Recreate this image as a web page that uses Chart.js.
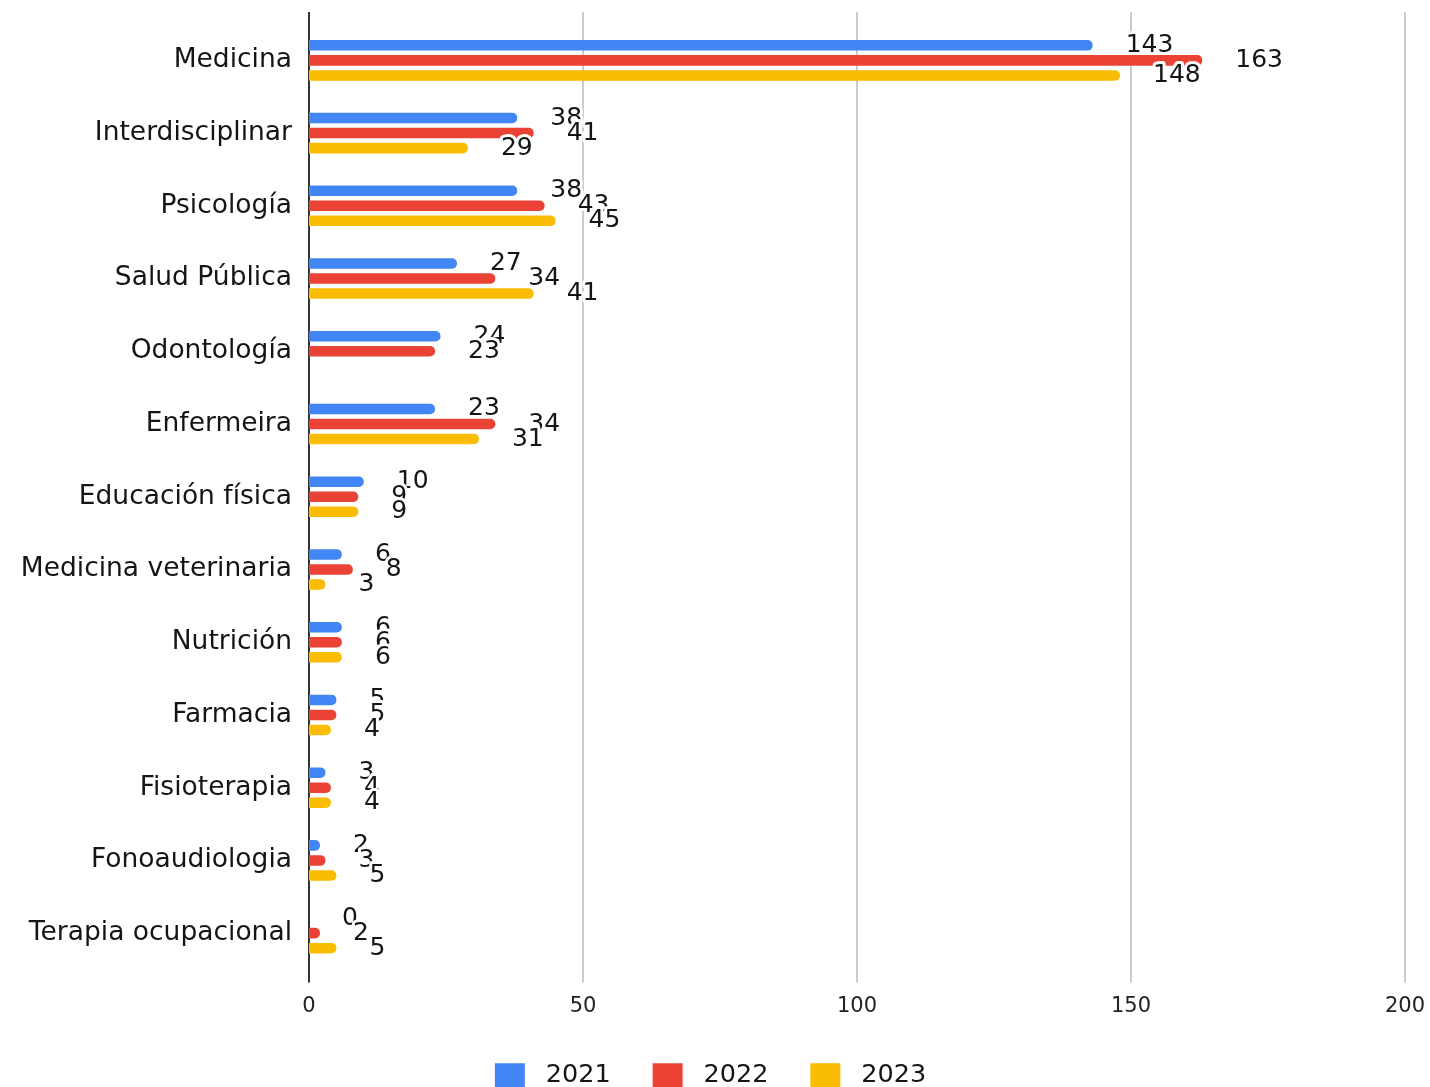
<!DOCTYPE html>
<html>
<head>
<meta charset="utf-8">
<script src="https://cdn.jsdelivr.net/npm/chart.js@4/dist/chart.umd.min.js"></script>
<style>
    html, body { margin: 0; padding: 0; background: #fff; overflow: hidden; }
    #wrap { width: 1430px; height: 1098px; }
</style>
</head>
<body>
<div id="wrap"><canvas id="chart"></canvas></div>
<script>
/* =========================
   DATA
========================= */

const categories = [
    "Medicina", "Interdisciplinar", "Psicología", "Salud Pública", "Odontología",
    "Enfermeira", "Educación física", "Medicina veterinaria", "Nutrición",
    "Farmacia", "Fisioterapia", "Fonoaudiologia", "Terapia ocupacional"
];

const years = ["2021", "2022", "2023"];

const values2021 = [143, 38, 38, 27, 24, 23, 10, 6, 6, 5, 3, 2, 0];
const values2022 = [163, 41, 43, 34, 23, 34, 9, 8, 6, 5, 4, 3, 2];
const values2023 = [148, 29, 45, 41, null, 31, 9, 3, 6, 4, 4, 5, 5];

const xTicks = [0, 50, 100, 150, 200];

const colors = ["#4285F4", "#EA4335", "#FBBC04"];

const FONT = "'DejaVu Sans', sans-serif";

/* =========================
   PLUGINS
========================= */

// vertical grid lines, a bit longer than the chart area like the original
const gridPlugin = {
    id: "longGrid",
    beforeDatasetsDraw(chart) {
        const ctx = chart.ctx;
        const x = chart.scales.x;
        const area = chart.chartArea;
        ctx.save();
        xTicks.forEach(v => {
            const px = Math.round(x.getPixelForValue(v));
            ctx.beginPath();
            ctx.lineWidth = 2;
            ctx.strokeStyle = v === 0 ? "#333333" : "#cccccc";
            ctx.moveTo(px, area.top - 12);
            ctx.lineTo(px, area.bottom + 13);
            ctx.stroke();
        });
        ctx.restore();
    }
};

// value labels with a white halo
const labelPlugin = {
    id: "valueLabels",
    afterDatasetsDraw(chart) {
        const ctx = chart.ctx;
        ctx.save();
        ctx.font = "25px " + FONT;
        ctx.textAlign = "left";
        ctx.textBaseline = "middle";
        ctx.lineJoin = "round";
        chart.data.datasets.forEach((ds, i) => {
            const meta = chart.getDatasetMeta(i);
            meta.data.forEach((bar, j) => {
                const v = ds.data[j];
                if (v === null || v === undefined) return;
                const tx = bar.x + 33;
                const ty = bar.y;
                ctx.lineWidth = 6;
                ctx.strokeStyle = "#ffffff";
                ctx.strokeText(String(v), tx, ty);
                ctx.fillStyle = "#151515";
                ctx.fillText(String(v), tx, ty);
            });
        });
        ctx.restore();
    }
};

/* =========================
   CHART
========================= */

const allValues = [values2021, values2022, values2023];

new Chart(document.getElementById("chart"), {
    type: "bar",
    data: {
        labels: categories,
        datasets: years.map((y, i) => ({
            label: y,
            data: allValues[i],
            backgroundColor: colors[i],
            borderWidth: 0,
            borderRadius: 5,
            categoryPercentage: 0.62,
            barPercentage: 0.7
        }))
    },
    options: {
        indexAxis: "y",
        responsive: true,
        maintainAspectRatio: false,
        animation: false,
        layout: { padding: { top: 24, right: 25, left: 16, bottom: 0 } },
        scales: {
            x: {
                min: 0,
                max: 200,
                afterFit: s => {
                    s.height = 51;
                    s.paddingLeft = 0;
                    s.paddingRight = 0;
                },
                afterBuildTicks: s => { s.ticks = xTicks.map(v => ({ value: v })); },
                grid: { display: false, drawTicks: false },
                border: { display: false },
                ticks: {
                    padding: 24,
                    color: "#222222",
                    font: { family: FONT, size: 21 }
                }
            },
            y: {
                afterFit: s => {
                    s.width = 293;
                    s.paddingTop = 0;
                    s.paddingBottom = 0;
                },
                grid: { display: false, drawTicks: false },
                border: { display: false },
                ticks: {
                    padding: 17,
                    color: "#151515",
                    font: { family: FONT, size: 26.5 }
                }
            }
        },
        plugins: {
            tooltip: { enabled: false },
            legend: {
                position: "bottom",
                labels: {
                    boxWidth: 30,
                    boxHeight: 24,
                    padding: 42,
                    color: "#151515",
                    font: { family: FONT, size: 25.5 },
                    generateLabels: chart => Chart.defaults.plugins.legend.labels.generateLabels(chart)
                        .map(item => Object.assign(item, { text: " " + item.text }))
                }
            }
        }
    },
    plugins: [gridPlugin, labelPlugin]
});
</script>
</body>
</html>
